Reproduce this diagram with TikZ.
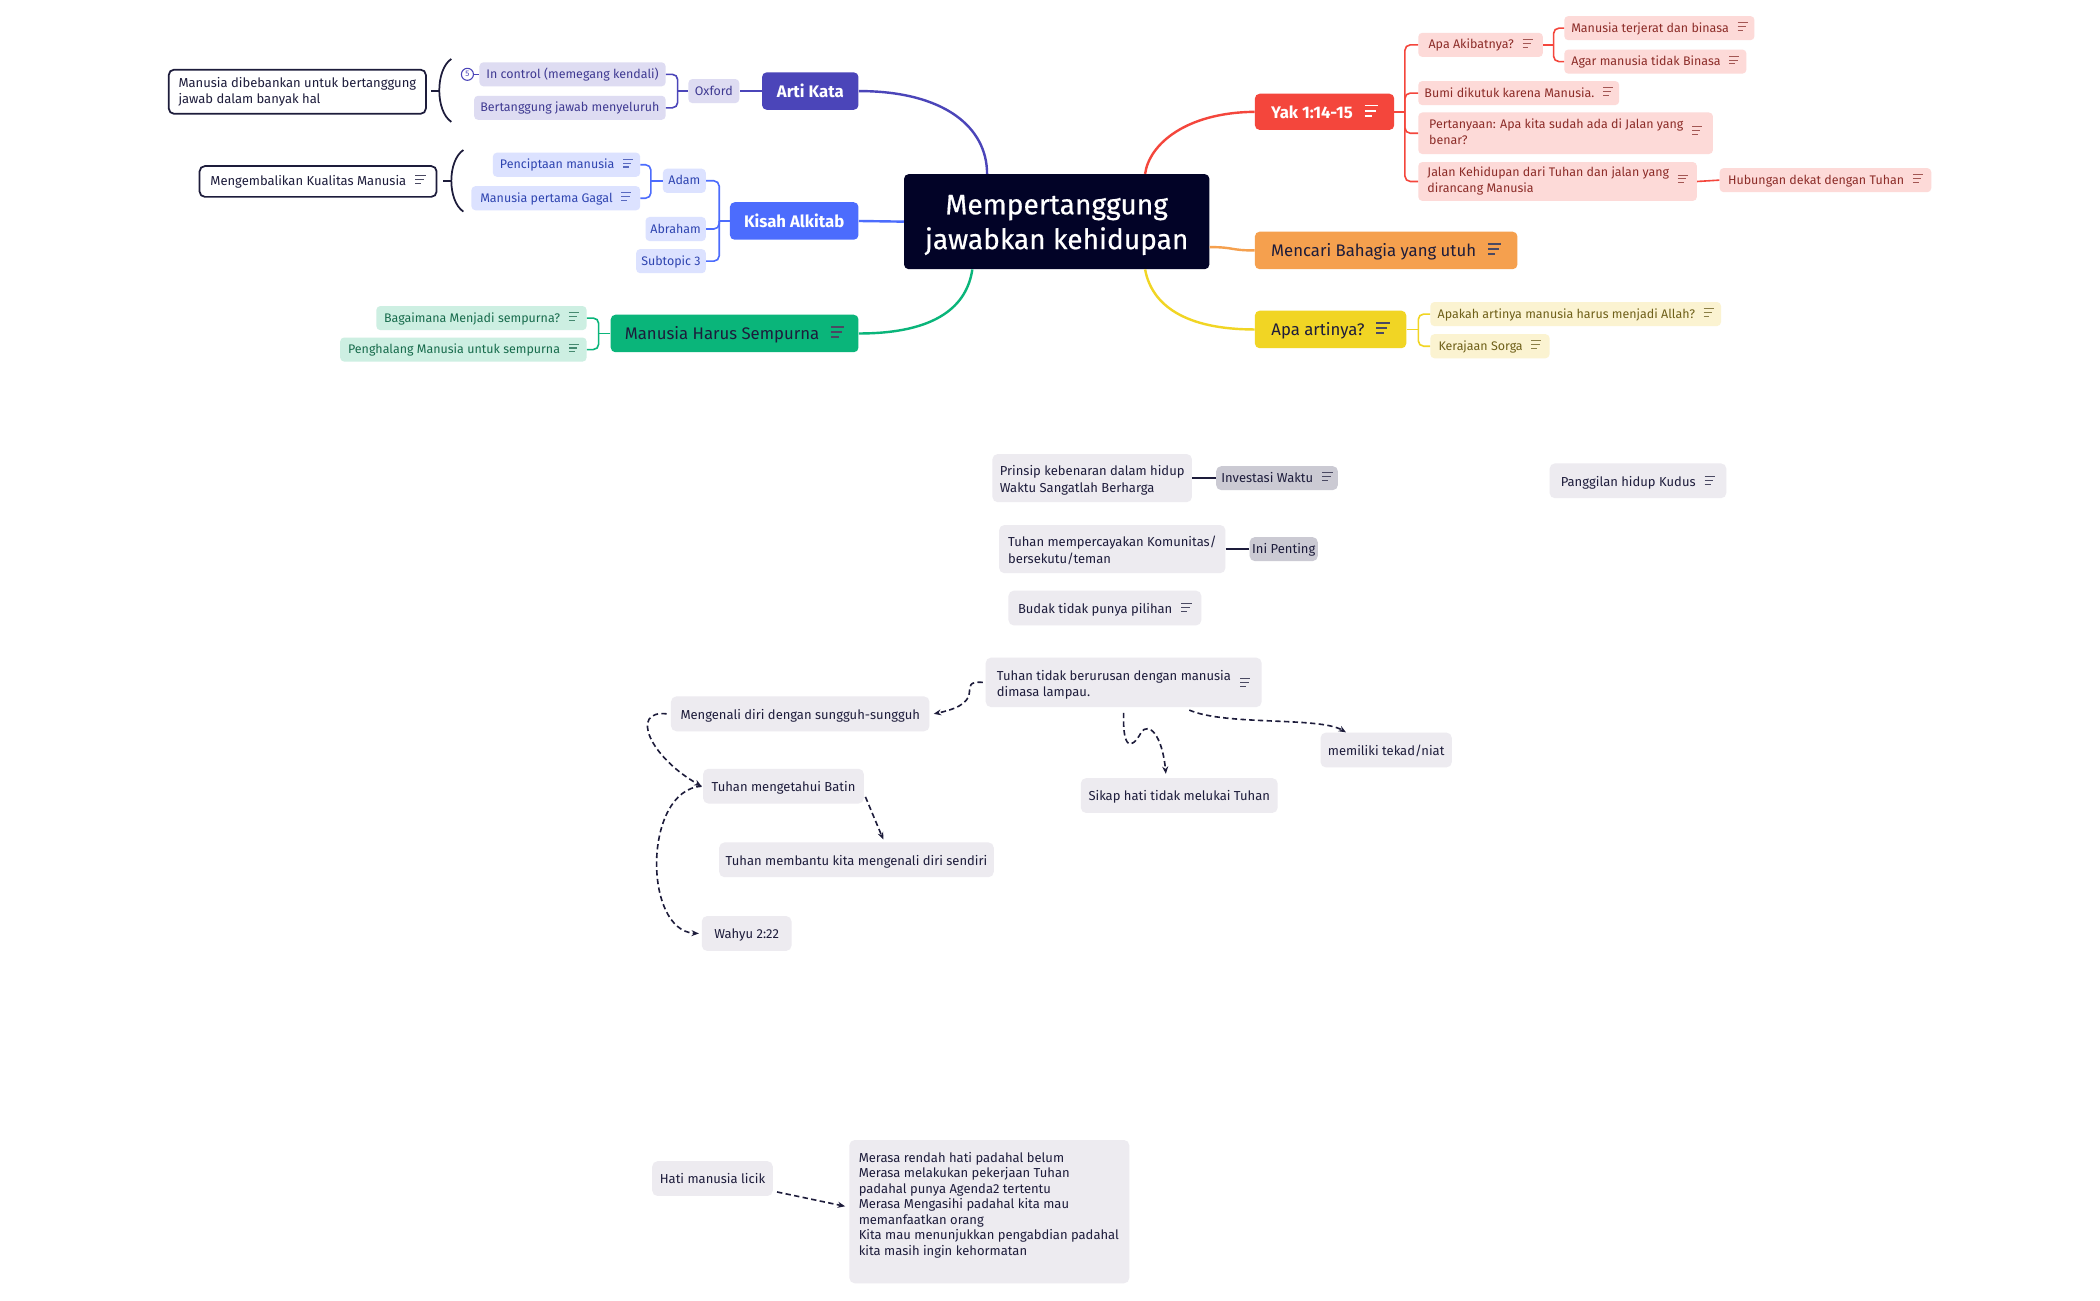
\documentclass[tikz,border=0pt]{standalone}
\usepackage{fontspec}
\setmainfont{Fira Sans}
\newfontfamily\titlefont[FakeBold=0.5]{Fira Sans}
\usetikzlibrary{arrows.meta}

\definecolor{navy}{HTML}{020327}
\definecolor{cIndigo}{HTML}{4B45B9}
\definecolor{lIndigo}{HTML}{DEDCF2}
\definecolor{tIndigo}{HTML}{3F3A92}
\definecolor{cBlue}{HTML}{4C6CFD}
\definecolor{lBlue}{HTML}{DCE2FF}
\definecolor{tBlue}{HTML}{2E44B0}
\definecolor{cGreen}{HTML}{0AB57A}
\definecolor{lGreen}{HTML}{CDEFE2}
\definecolor{tGreen}{HTML}{176B4C}
\definecolor{cRed}{HTML}{F4463C}
\definecolor{lRed}{HTML}{FDDAD8}
\definecolor{tRed}{HTML}{8C2C28}
\definecolor{cOrange}{HTML}{F5A04E}
\definecolor{cYellow}{HTML}{F1D524}
\definecolor{lYellow}{HTML}{FBF3D1}
\definecolor{tYellow}{HTML}{6E5F18}
\definecolor{ink}{HTML}{1D1C3B}
\definecolor{lgray}{HTML}{EDEBF0}
\definecolor{dgray}{HTML}{CBCAD3}

\newcommand\nic{\hspace{0.7em}{\color{.!80!white}\raisebox{0.1em}{\vbox{\hrule width 0.8em height 0.085em\vskip 0.22em\hrule width 0.66em height 0.085em\vskip 0.22em\hrule width 0.46em height 0.085em}}}}
\newcommand\twol[2]{\begin{tabular}{@{}l@{}}#1\\#2\end{tabular}}

\tikzset{
  nbase/.style={rounded corners=3.5pt, inner sep=0pt, align=center},
  central/.style={rounded corners=3.5pt, inner sep=0pt, fill=navy, text=white, minimum width=228pt, minimum height=71pt, font=\fontsize{21}{26}\selectfont\titlefont, text height=33.5pt, text depth=18.5pt},
  branch/.style={nbase, minimum height=28pt, text=ink, font=\fontsize{12.5}{15}\selectfont, text height=11pt, text depth=2pt},
  bbold/.style={nbase, minimum height=28pt, text=white, font=\fontsize{12.5}{15}\selectfont\bfseries},
  kid/.style={nbase, rounded corners=3pt, minimum height=18pt, font=\fontsize{9.3}{12}\selectfont},
  one/.style={text height=7.6pt, text depth=1.6pt},
  kI/.style={kid, one, fill=lIndigo, text=tIndigo},
  kB/.style={kid, one, fill=lBlue, text=tBlue},
  kG/.style={kid, one, fill=lGreen, text=tGreen},
  kR/.style={kid, one, fill=lRed, text=tRed},
  kY/.style={kid, one, fill=lYellow, text=tYellow},
  flt/.style={nbase, rounded corners=4pt, align=left, fill=lgray, text=ink, minimum height=26pt, font=\fontsize{9.7}{12}\selectfont},
  fone/.style={flt, text height=9.3pt, text depth=1.5pt},
  ftwo/.style={flt, text height=16.5pt, text depth=7.5pt},
  fltd/.style={flt, text height=8pt, text depth=1.5pt, fill=dgray, minimum height=18pt},
  summ/.style={nbase, rounded corners=4pt, align=left, fill=white, draw=ink, line width=1.3pt, text=ink, font=\fontsize{9.7}{12}\selectfont},
  mainln/.style={line width=1.8pt},
  subln/.style={line width=1.2pt, rounded corners=4pt},
  darr/.style={draw=ink, line width=1.2pt, dash pattern=on 4pt off 2.5pt, -{Stealth[length=5.5pt,width=4.5pt]}},
  solidc/.style={draw=ink, line width=1.6pt},
}

\begin{document}
\begin{tikzpicture}[x=1pt,y=-1pt]
\fill[white] (0,0) rectangle (1568,971);
\useasboundingbox (0,0) rectangle (1568,971);

% central and main branches
\node[central] (ctr) at (789,165.5) {\begin{tabular}{@{}c@{}}Mempertanggung\\jawabkan kehidupan\end{tabular}};
\node[bbold, fill=cIndigo, minimum width=72pt] (arti) at (605,68) {Arti Kata};
\node[bbold, fill=cBlue, minimum width=96pt] (kisah) at (593,165) {Kisah Alkitab};
\node[branch, fill=cGreen, minimum width=185pt] (mhs) at (548.5,249) {Manusia Harus Sempurna\nic};
\node[bbold, fill=cRed, minimum width=104pt, minimum height=27pt] (yak) at (989,83.5) {Yak 1:14-15\nic};
\node[branch, fill=cOrange, minimum width=196pt] (mencari) at (1035,187) {Mencari Bahagia yang utuh\nic};
\node[branch, fill=cYellow, minimum width=113pt] (apa) at (993.5,246) {Apa artinya?\nic};

\draw[cIndigo, mainln] (arti.east) .. controls (705,68) and (737,95) .. ([xshift=-52pt]ctr.north);
\draw[cBlue, mainln] (kisah.east) -- (ctr.west);
\draw[cGreen, mainln] (mhs.east) .. controls (700,249) and (722,228) .. ([xshift=-63pt]ctr.south);
\draw[cRed, mainln] (yak.west) .. controls (885,84) and (858,108) .. ([xshift=66pt]ctr.north);
\draw[cOrange, mainln] ([yshift=-19pt]ctr.east) .. controls (922,184.5) and (918,187) .. (mencari.west);
\draw[cYellow, mainln] (apa.west) .. controls (885,246) and (860,228) .. ([xshift=66pt]ctr.south);

% Arti Kata subtree
\node[kI, minimum width=38pt] (oxford) at (533,68) {Oxford};
\node[kI, minimum width=139pt] (inctl) at (427.5,55.5) {In control (memegang kendali)};
\node[kI, minimum width=143pt] (bert) at (425.5,80.5) {Bertanggung jawab menyeluruh};
\node[circle, draw=cIndigo, line width=0.8pt, inner sep=0pt, minimum size=9pt, font=\fontsize{6}{6}\selectfont, text=cIndigo] (badge) at (349,55.5) {5};
\node[summ, minimum width=192pt, minimum height=33pt] (sum1) at (222,68.5) {Manusia dibebankan untuk bertanggung\\jawab dalam banyak hal};
\coordinate (j1) at (506,68);
\draw[cIndigo, subln] (arti.west) -- (oxford.east);
\draw[cIndigo, subln] (oxford.west) -- (j1);
\draw[cIndigo, subln] (inctl.east) -| (j1) |- (bert.east);
\draw[cIndigo, line width=1pt] (badge.east) -- (inctl.west);
\draw[ink, line width=1.3pt] (337,44) .. controls (325,52) and (325,83) .. (337,91);
\draw[ink, line width=1.3pt] (322,68) -- (328.5,68);

% Kisah Alkitab subtree
\node[kB, minimum width=32pt] (adam) at (511,135) {Adam};
\node[kB, minimum width=45pt] (abraham) at (504.5,171) {Abraham};
\node[kB, minimum width=52pt] (sub3) at (501,195) {Subtopic 3};
\node[kB, minimum width=110pt] (penc) at (423,123) {Penciptaan manusia\nic};
\node[kB, minimum width=126pt] (pertama) at (415,148) {Manusia pertama Gagal\nic};
\node[summ, minimum width=177pt, minimum height=23pt] (sum2) at (237.5,135.5) {Mengembalikan Kualitas Manusia\nic};
\coordinate (j2) at (537,165);
\coordinate (j7) at (486,135);
\draw[cBlue, subln] (kisah.west) -- (j2);
\draw[cBlue, subln] (adam.east) -| (j2) |- (sub3.east);
\draw[cBlue, subln] (abraham.east) -| (j2);
\draw[cBlue, subln] (adam.west) -- (j7);
\draw[cBlue, subln] (penc.east) -| (j7) |- (pertama.east);
\draw[ink, line width=1.3pt] (346,112) .. controls (334,120) and (334,150) .. (346,158);
\draw[ink, line width=1.3pt] (331,135) -- (337.5,135);

% Manusia Harus Sempurna subtree
\node[kG, minimum width=157pt] (bag) at (359.5,237.5) {Bagaimana Menjadi sempurna?\nic};
\node[kG, minimum width=184pt] (peng) at (346,261) {Penghalang Manusia untuk sempurna\nic};
\coordinate (j6) at (447,249);
\draw[cGreen, subln] (mhs.west) -- (j6);
\draw[cGreen, subln] (bag.east) -| (j6) |- (peng.east);

% Yak subtree
\node[kR, minimum width=93pt] (akibat) at (1105.5,33.5) {Apa Akibatnya?\nic};
\node[kR, minimum width=142pt] (terjerat) at (1239,21) {Manusia terjerat dan binasa\nic};
\node[kR, minimum width=136pt] (agar) at (1236,46) {Agar manusia tidak Binasa\nic};
\node[kR, minimum width=150pt] (bumi) at (1134,69.5) {Bumi dikutuk karena Manusia.\nic};
\node[kid, fill=lRed, text=tRed, minimum width=220pt, minimum height=31pt] (tanya) at (1169,99.5) {\twol{Pertanyaan: Apa kita sudah ada di Jalan yang}{benar?}\nic};
\node[kid, fill=lRed, text=tRed, minimum width=208pt, minimum height=29pt] (jalan) at (1163,135.5) {\twol{Jalan Kehidupan dari Tuhan dan jalan yang}{dirancang Manusia}\nic};
\node[kR, minimum width=158pt] (hub) at (1363,134.5) {Hubungan dekat dengan Tuhan\nic};
\coordinate (j3) at (1049,83.5);
\coordinate (j4) at (1160,33.5);
\draw[cRed, subln] (yak.east) -- (j3);
\draw[cRed, subln] (akibat.west) -| (j3) |- (jalan.west);
\draw[cRed, subln] (bumi.west) -| (j3);
\draw[cRed, subln] (tanya.west) -| (j3);
\draw[cRed, subln] (akibat.east) -- (j4);
\draw[cRed, subln] (terjerat.west) -| (j4) |- (agar.west);
\draw[cRed, subln] (jalan.east) -- (hub.west);

% Apa artinya subtree
\node[kY, minimum width=217pt] (apakah) at (1176.5,234.5) {Apakah artinya manusia harus menjadi Allah?\nic};
\node[kY, minimum width=89pt] (keraj) at (1112.5,258.5) {Kerajaan Sorga\nic};
\coordinate (j5) at (1059,246);
\draw[cYellow, subln] (apa.east) -- (j5);
\draw[cYellow, subln] (apakah.west) -| (j5) |- (keraj.west);

% floating topics
\node[ftwo, minimum width=149pt, minimum height=36pt] (prinsip) at (815.5,357) {\twol{Prinsip kebenaran dalam hidup}{Waktu Sangatlah Berharga}};
\node[fltd, minimum width=91pt] (invest) at (953.5,357) {Investasi Waktu\nic};
\node[ftwo, minimum width=169pt, minimum height=36pt] (percaya) at (830.5,410) {\twol{Tuhan mempercayakan Komunitas/}{bersekutu/teman}};
\node[fltd, minimum width=51pt] (penting) at (958.5,410) {Ini Penting};
\node[fone, minimum width=144pt] (budak) at (825,454) {Budak tidak punya pilihan\nic};
\node[fone, minimum width=132pt] (panggil) at (1223,359) {Panggilan hidup Kudus\nic};
\draw[solidc] (prinsip.east) -- (invest.west);
\draw[solidc] (percaya.east) -- (penting.west);

\node[ftwo, minimum width=206pt, minimum height=37pt] (tt) at (839,509.5) {\twol{Tuhan tidak berurusan dengan manusia}{dimasa lampau.}\nic};
\node[fone, minimum width=193pt] (kenal) at (597.5,533) {Mengenali diri dengan sungguh-sungguh};
\node[fone, minimum width=120pt] (batin) at (585,587) {Tuhan mengetahui Batin};
\node[fone, minimum width=205pt] (bantu) at (639.5,642) {Tuhan membantu kita mengenali diri sendiri};
\node[fone, minimum width=67pt] (wahyu) at (557.5,697) {Wahyu 2:22};
\node[fone, minimum width=147pt] (sikap) at (880.5,594) {Sikap hati tidak melukai Tuhan};
\node[fone, minimum width=98pt] (tekad) at (1035,560) {memiliki tekad/niat};
\node[fone, minimum width=90pt] (hati) at (532,880) {Hati manusia licik};
\node[flt, anchor=north west, inner xsep=7pt, inner ysep=6pt, font=\fontsize{9.7}{11.6}\selectfont] (big) at (634,851) {\parbox[c][95pt][t]{195pt}{\raggedright\vspace*{3pt}Merasa rendah hati padahal belum\\Merasa melakukan pekerjaan Tuhan\\padahal punya Agenda2 tertentu\\Merasa Mengasihi padahal kita mau\\memanfaatkan orang\\Kita mau menunjukkan pengabdian padahal\\kita masih ingin kehormatan}};

\draw[darr] ([xshift=-2pt]tt.west) .. controls (712,508) and (740,524) .. ([xshift=3pt]kenal.east);
\draw[darr] ([xshift=-3pt]kenal.west) .. controls (470,530) and (485,565) .. ([xshift=-1pt]batin.west);
\draw[darr] ([yshift=-8pt,xshift=1pt]batin.east) -- ([xshift=20pt,yshift=2pt]bantu.north);
\draw[darr] ([xshift=-1pt]batin.west) .. controls (480,590) and (480,695) .. ([xshift=-2pt]wahyu.west);
\draw[darr] ([yshift=-4pt]tt.south) .. controls (838,560) and (845,560) .. (852,547) .. controls (858,538) and (868,550) .. ([xshift=-10pt,yshift=3pt]sikap.north);
\draw[darr] ([xshift=49pt,yshift=-2pt]tt.south) .. controls (915,542) and (985,535) .. ([xshift=-30pt]tekad.north);
\draw[darr] ([xshift=3pt,yshift=-10pt]hati.east) -- ([xshift=-3pt,yshift=4pt]big.west);
\end{tikzpicture}
\end{document}
